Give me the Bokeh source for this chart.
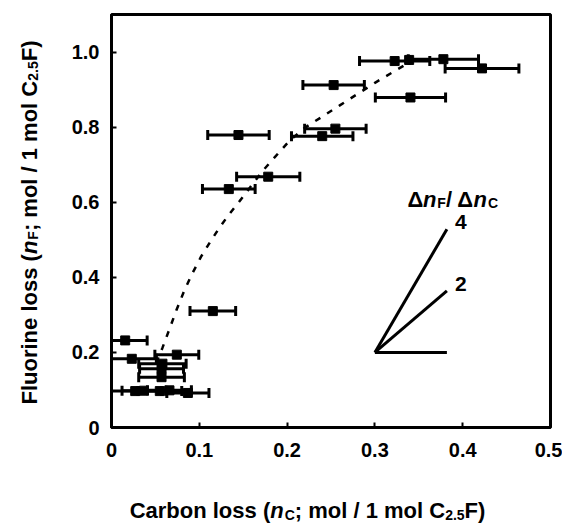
import math
from bokeh.plotting import figure
from bokeh.layouts import row, column
from bokeh.models import (ColumnDataSource, Whisker, TeeHead, Label, FixedTicker,
                          CustomJSTickFormatter, Range1d)
from bokeh.embed import file_html
from bokeh.resources import INLINE

# ---------------- data ----------------
carbon_loss = [0.3225, 0.339, 0.378, 0.422, 0.253, 0.3405, 0.255, 0.240, 0.1446,
               0.1785, 0.1336, 0.1154, 0.0156, 0.0231, 0.0744, 0.058, 0.057,
               0.057, 0.027, 0.037, 0.055, 0.066, 0.087]
fluorine_loss = [0.976, 0.979, 0.981, 0.9565, 0.912, 0.879, 0.796, 0.776, 0.779,
                 0.668, 0.635, 0.310, 0.232, 0.183, 0.194, 0.170, 0.1565,
                 0.134, 0.097, 0.098, 0.097, 0.099, 0.092]
carbon_err = [0.040, 0.0, 0.040, 0.042, 0.035, 0.040, 0.035, 0.035, 0.035,
              0.036, 0.030, 0.026, 0.025, 0.028, 0.025, 0.027, 0.025,
              0.026, 0.030, 0.025, 0.025, 0.025, 0.024]

fit_x = [0.051, 0.058, 0.066, 0.074, 0.083, 0.092, 0.102, 0.112, 0.122, 0.133,
         0.145, 0.158, 0.172, 0.186, 0.202, 0.220, 0.240, 0.260, 0.280, 0.300,
         0.320, 0.342]
fit_y = [0.172, 0.212, 0.262, 0.313, 0.365, 0.410, 0.455, 0.493, 0.529, 0.565,
         0.600, 0.640, 0.683, 0.720, 0.762, 0.798, 0.828, 0.858, 0.888, 0.918,
         0.946, 0.976]

slope_origin = (0.30, 0.20)
slope_dx = 0.082
slope_values = [0, 2, 4]
slope_labels = ["2", "4"]

x_ticks = [0, 0.1, 0.2, 0.3, 0.4, 0.5]
y_ticks = [0, 0.2, 0.4, 0.6, 0.8, 1.0]

# ---------------- layout helpers ----------------
W, H = 562, 525
YW = 45            # width of the strip holding the y title
XH = 55            # height of the strip holding the x title
L, R, T, B = 111, 12, 14, 98   # frame borders in page pixels
FW, FH = W - L - R, H - T - B
XMAX, YMAX = 0.5, 1.1


def px2x(px):
    return (px - L) / FW * XMAX


def py2y(py):
    return (T + FH - py) / FH * YMAX


AW = {' ': 278, '(': 333, ')': 333, ';': 333, '/': 278, '.': 278, 'C': 722,
      'F': 611, 'a': 556, 'b': 611, 'c': 556, 'e': 556, 'i': 278, 'l': 278,
      'm': 889, 'n': 611, 'o': 611, 'r': 389, 's': 556, 'u': 611, '\u0394': 700}
for d in "0123456789":
    AW[d] = 556


def tw(s, size):
    return sum(AW.get(c, 600) for c in s) / 1000.0 * size


FONT = "Liberation Sans"
S, SS = 22, 14

p = figure(width=W - YW, height=H - XH, output_backend="svg", toolbar_location=None,
           x_range=Range1d(0, XMAX), y_range=Range1d(0, YMAX), title=None,
           min_border_left=L - YW, min_border_right=R, min_border_top=T,
           min_border_bottom=B - XH, background_fill_color="white",
           border_fill_color="white")
p.grid.visible = False
p.outline_line_color = "black"
p.outline_line_width = 3

fmt = CustomJSTickFormatter(code="return tick == 0 ? '0' : tick.toFixed(1);")
p.xaxis.ticker = FixedTicker(ticks=x_ticks)
p.yaxis.ticker = FixedTicker(ticks=y_ticks)
for ax in (p.xaxis[0], p.yaxis[0]):
    ax.formatter = fmt
    ax.axis_line_color = "black"
    ax.axis_line_width = 3
    ax.major_tick_in = 5
    ax.major_tick_out = 0
    ax.major_tick_line_width = 2
    ax.minor_tick_line_color = None
    ax.major_label_text_font = FONT
    ax.major_label_text_font_style = "bold"
    ax.major_label_text_font_size = "20px"
    ax.major_label_text_color = "black"
p.xaxis.major_label_standoff = 15
p.yaxis.major_label_standoff = 12

# fitted dashed curve
p.line(fit_x, fit_y, line_dash="6 8", line_width=2.5, color="black")

# error bars
src = ColumnDataSource(dict(
    x=carbon_loss, y=fluorine_loss,
    lo=[max(0.0, a - e) for a, e in zip(carbon_loss, carbon_err)],
    hi=[a + e for a, e in zip(carbon_loss, carbon_err)]))
p.add_layout(Whisker(source=src, base="y", lower="lo", upper="hi",
                     dimension="width", line_width=3, line_color="black",
                     upper_head=TeeHead(size=10, line_width=3, line_color="black"),
                     lower_head=TeeHead(size=10, line_width=3, line_color="black")))
p.scatter("x", "y", source=src, marker="square", size=9, color="black")

# slope guide lines
ox, oy = slope_origin
for s in slope_values:
    p.line([ox, ox + slope_dx], [oy, oy + s * slope_dx], line_width=3, color="black")


def lab(fig, x, y, text, style="bold", size=S, align="left", angle=0.0):
    fig.add_layout(Label(x=x, y=y, text=text, text_font=FONT, text_font_style=style,
                         text_font_size=f"{size}px", text_align=align,
                         text_baseline="alphabetic", angle=angle,
                         text_color="black"))


# slope labels
for txt, s in zip(slope_labels, slope_values[1:]):
    lab(p, ox + slope_dx + px2x(L + 14), oy + s * slope_dx + py2y(T + FH - 7),
        txt, align="center", size=21)

# Δn_F / Δn_C annotation
pieces_ann = [("\u0394", "bold", S, 0), ("n", "bold italic", S, 0), ("F", "bold", SS, 4),
              ("/ \u0394", "bold", S, 0), ("n", "bold italic", S, 0), ("C", "bold", SS, 4)]
cx = 407
for t, st, sz, sh in pieces_ann:
    lab(p, px2x(cx), py2y(198.5 + sh), t, style=st, size=sz)
    cx += tw(t, sz) + (1 if st == "bold italic" else 0)


def strip(width, height, xr, yr):
    f = figure(width=width, height=height, output_backend="svg", toolbar_location=None,
               x_range=Range1d(*xr), y_range=Range1d(*yr), title=None,
               min_border=0, min_border_left=0, min_border_right=0,
               min_border_top=0, min_border_bottom=0,
               background_fill_color="white", border_fill_color="white")
    f.axis.visible = False
    f.grid.visible = False
    f.outline_line_color = None
    return f


# strips use page-pixel coordinates (y measured from the top);
# the x strip's frame lines up with the main frame (page px L .. W-R)
xfig = strip(W - YW, XH, (L, W - R), (H, H - XH))
yfig = strip(YW, H, (0, YW), (H, 0))


def title_pieces(first, sub):
    return [(first, "bold", S, 0), ("n", "bold italic", S, 0),
            (sub, "bold", SS, 4), ("; mol / 1 mol C", "bold", S, 0),
            ("2.5", "bold", SS, 4), ("F)", "bold", S, 0)]


xp = title_pieces("Carbon loss (", "C")
tot = sum(tw(t, sz) for t, _, sz, _ in xp) + 1
cx = 307 - tot / 2
for t, st, sz, sh in xp:
    lab(xfig, cx, 510 + sh, t, style=st, size=sz)
    cx += tw(t, sz) + (1 if st == "bold italic" else 0)

yp = title_pieces("Fluorine loss (", "F")
tot = sum(tw(t, sz) for t, _, sz, _ in yp) + 1
cy = 222 + tot / 2
for t, st, sz, sh in yp:
    lab(yfig, 28.5 + sh, cy, t, style=st, size=sz, angle=math.pi / 2)
    cy -= tw(t, sz) + (1 if st == "bold italic" else 0)

layout = row(yfig, column(p, xfig, spacing=0), spacing=0)
open("out.html", "w").write(file_html(layout, INLINE))
